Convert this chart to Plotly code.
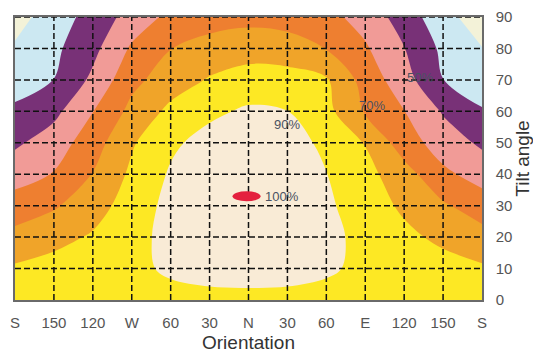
import plotly.graph_objects as go

# Panel orientation (degrees from north, west negative) and tilt angle (degrees)
azimuth = [-180, -150, -120, -90, -60, -30, 0, 30, 60, 90, 120, 150, 180]
tilt = [0, 10, 20, 30, 40, 50, 60, 70, 80, 90]

# Relative yearly irradiation (% of optimum), one row per tilt angle
irr_t0 = [88.0, 88.0, 88.0, 88.0, 88.0, 88.0, 88.0, 88.0, 88.0, 88.0, 88.0, 88.0, 88.0]
irr_t10 = [81.3, 83.7, 86.1, 88.5, 91.0, 92.7, 93.2, 92.7, 90.9, 88.6, 86.1, 83.7, 81.3]
irr_t20 = [73.1, 76.9, 81.1, 87.0, 92.8, 95.5, 96.5, 95.5, 92.5, 87.4, 82.3, 77.8, 73.7]
irr_t30 = [64.3, 68.8, 75.9, 84.4, 93.0, 97.5, 99.8, 98.0, 91.7, 85.0, 78.3, 71.4, 64.9]
irr_t40 = [55.9, 60.5, 70.4, 81.9, 91.1, 96.5, 99.0, 97.0, 90.2, 83.2, 74.1, 62.1, 56.1]
irr_t50 = [48.3, 54.9, 65.5, 78.9, 88.2, 93.5, 96.0, 94.0, 87.9, 79.5, 64.7, 55.3, 48.3]
irr_t60 = [41.6, 47.4, 59.8, 72.7, 82.4, 87.9, 91.5, 90.1, 83.0, 69.0, 60.2, 49.1, 40.7]
irr_t70 = [36.2, 40.1, 52.1, 67.3, 75.1, 80.8, 84.0, 84.0, 81.0, 66.1, 54.1, 40.1, 35.5]
irr_t80 = [31.3, 37.9, 47.3, 61.4, 69.8, 74.0, 76.0, 74.5, 69.7, 61.2, 50.3, 37.9, 30.3]
irr_t90 = [26.0, 35.2, 43.6, 54.0, 62.5, 65.5, 67.0, 66.0, 63.0, 56.2, 45.4, 33.5, 24.5]
irradiation = [irr_t0, irr_t10, irr_t20, irr_t30, irr_t40,
               irr_t50, irr_t60, irr_t70, irr_t80, irr_t90]

x_tick_text = ["S", "150", "120", "W", "60", "30", "N", "30", "60", "E", "120", "150", "S"]
y_tick_vals = tilt

# Optimum orientation / tilt (100 %)
optimum_az = -1.5
optimum_tilt = 33.0

# In-plot level labels
level_text = ["90%", "70%", "50%"]
level_az = [18, 84, 121]
level_tilt = [55.8, 62.0, 70.8]

# Band colours: <30, 30-40, 40-50, 50-60, 60-70, 70-80, 80-90, >90
band_colors = ["#F3F2D8", "#CCE8F2", "#783177", "#F19B97",
               "#EE7F30", "#F0A429", "#FDE824", "#F9EBD6"]
n = len(band_colors)
colorscale = []
for k, c in enumerate(band_colors):
    lo = 0 if k == 0 else (k - 0.5) / (n - 1)
    hi = 1 if k == n - 1 else (k + 0.5) / (n - 1)
    colorscale.append([lo, c])
    colorscale.append([hi, c])

FONT = "Liberation Sans, Arial, sans-serif"

fig = go.Figure()
fig.add_trace(go.Contour(
    x=azimuth, y=tilt, z=irradiation,
    contours=dict(start=30, end=90, size=10, coloring="fill", showlines=False),
    colorscale=colorscale,
    line=dict(width=0, smoothing=1.0),
    showscale=False,
    hoverinfo="skip",
))

shapes = []
# dashed grid drawn on top of the filled bands
grid_line = dict(color="#111111", width=1.5, dash="6px,3px")
for xv in azimuth[1:-1]:
    shapes.append(dict(type="line", xref="x", yref="y", x0=xv, x1=xv, y0=tilt[0], y1=90,
                       line=grid_line, layer="above"))
for yv in tilt[1:]:
    shapes.append(dict(type="line", xref="x", yref="y", x0=-180, x1=180, y0=yv, y1=yv,
                       line=grid_line, layer="above"))
# optimum marker
shapes.append(dict(type="circle", xref="x", yref="y",
                   x0=optimum_az - 10.8, x1=optimum_az + 10.8,
                   y0=optimum_tilt - 1.6, y1=optimum_tilt + 1.6,
                   fillcolor="#E4203E", line=dict(width=0), layer="above"))

label_font = dict(family=FONT, size=13, color="#4a5262")
annotations = [dict(x=optimum_az + 13, y=optimum_tilt, text="100%", showarrow=False,
                    xanchor="left", yanchor="middle", font=label_font)]
for t, a, b in zip(level_text, level_az, level_tilt):
    annotations.append(dict(x=a, y=b, text=t, showarrow=False, xanchor="left", yanchor="middle",
                            font=label_font))

fig.update_layout(
    width=533, height=356,
    margin=dict(l=15, r=51, t=17, b=56),
    paper_bgcolor="white", plot_bgcolor="white",
    font=dict(family=FONT, color="#555555"),
    shapes=shapes, annotations=annotations,
    showlegend=False,
    xaxis=dict(range=[-180, 180], tickvals=azimuth, ticktext=x_tick_text,
               showgrid=False, zeroline=False, ticks="", automargin=False,
               showline=True, mirror=True, linecolor="#6a6a6a", linewidth=1.5,
               tickfont=dict(size=15, color="#555555"), ticklabelstandoff=8,
               title=dict(text="Orientation", font=dict(size=19, color="#333333"), standoff=6)),
    yaxis=dict(range=[0, 90], tickvals=y_tick_vals, side="right",
               showgrid=False, zeroline=False, ticks="", automargin=False,
               showline=True, mirror=True, linecolor="#6a6a6a", linewidth=1.5,
               tickfont=dict(size=15, color="#555555"), ticklabelstandoff=9,
               title=dict(text="Tilt angle", font=dict(size=19, color="#333333"), standoff=23)),
)

fig.write_html("out.html")
